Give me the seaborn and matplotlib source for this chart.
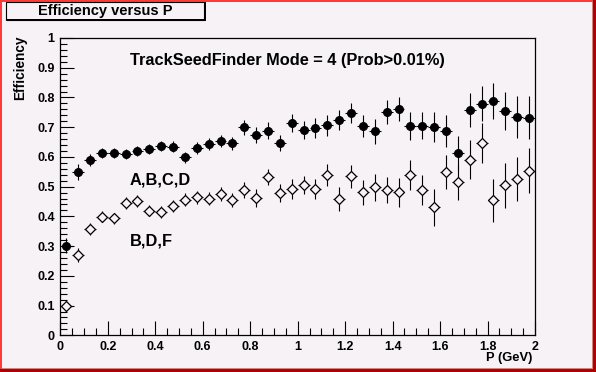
import numpy as np
import pandas as pd
import matplotlib
matplotlib.use("Agg")
import matplotlib.pyplot as plt
from matplotlib.patches import Rectangle
from matplotlib.ticker import MultipleLocator, FuncFormatter
import seaborn as sns

# bin centres (GeV), 40 bins of 0.05
p_bins = np.arange(0.025, 2.0, 0.05)

eff_abcd = [0.301, 0.550, 0.591, 0.613, 0.613, 0.609, 0.620, 0.627, 0.637, 0.634,
            0.599, 0.630, 0.643, 0.654, 0.646, 0.700, 0.674, 0.688, 0.647, 0.715,
            0.690, 0.697, 0.707, 0.724, 0.748, 0.704, 0.687, 0.751, 0.762, 0.704,
            0.705, 0.701, 0.688, 0.613, 0.758, 0.779, 0.789, 0.755, 0.735, 0.732]
err_abcd = [0.025, 0.026, 0.020, 0.016, 0.016, 0.016, 0.016, 0.017, 0.018, 0.018,
            0.019, 0.020, 0.021, 0.021, 0.022, 0.025, 0.028, 0.028, 0.028, 0.030,
            0.031, 0.034, 0.035, 0.035, 0.034, 0.038, 0.042, 0.041, 0.041, 0.048,
            0.045, 0.050, 0.054, 0.056, 0.058, 0.059, 0.060, 0.065, 0.070, 0.072]

eff_bdf = [0.099, 0.270, 0.358, 0.399, 0.394, 0.445, 0.452, 0.419, 0.414, 0.434,
           0.456, 0.465, 0.459, 0.475, 0.456, 0.489, 0.462, 0.532, 0.478, 0.492,
           0.505, 0.492, 0.539, 0.458, 0.535, 0.481, 0.498, 0.489, 0.481, 0.540,
           0.489, 0.430, 0.549, 0.515, 0.591, 0.646, 0.454, 0.504, 0.526, 0.554]
err_bdf = [0.020, 0.024, 0.021, 0.019, 0.019, 0.019, 0.019, 0.019, 0.020, 0.020,
           0.021, 0.022, 0.022, 0.023, 0.024, 0.028, 0.030, 0.028, 0.030, 0.033,
           0.031, 0.034, 0.038, 0.040, 0.038, 0.042, 0.046, 0.045, 0.048, 0.050,
           0.050, 0.062, 0.056, 0.059, 0.065, 0.067, 0.073, 0.075, 0.073, 0.077]

half_bin = 0.025
bg = '#f6f2f6'

sns.set_style("ticks")
plt.rcParams['font.family'] = ['Liberation Sans', 'DejaVu Sans']
plt.rcParams['font.weight'] = 'bold'
plt.rcParams['text.color'] = 'black'
plt.rcParams['axes.labelcolor'] = 'black'

W, H = 596, 372
fig = plt.figure(figsize=(W / 100, H / 100), dpi=100, facecolor=bg)
ax = fig.add_axes([60.3 / W, 1 - 335.3 / H, (535 - 60.3) / W, (335.3 - 38) / H])
ax.set_facecolor(bg)

df = pd.DataFrame({
    'P': np.concatenate([p_bins, p_bins]),
    'eff': eff_abcd + eff_bdf,
    'set': ['A,B,C,D'] * len(p_bins) + ['B,D,F'] * len(p_bins),
})

# error bars (behind the markers)
ax.errorbar(p_bins, eff_abcd, yerr=err_abcd, xerr=half_bin, fmt='none',
            ecolor='black', elinewidth=0.8, capsize=0, zorder=2)
ax.errorbar(p_bins, eff_bdf, yerr=err_bdf, xerr=half_bin, fmt='none',
            ecolor='black', elinewidth=0.8, capsize=0, zorder=2)

sns.scatterplot(data=df[df['set'] == 'A,B,C,D'], x='P', y='eff', ax=ax,
                marker='o', s=34, color='black', edgecolor='black',
                linewidth=0.6, zorder=3, legend=False)
sns.scatterplot(data=df[df['set'] == 'B,D,F'], x='P', y='eff', ax=ax,
                marker='D', s=26, facecolor=bg, edgecolor='black',
                linewidth=0.9, zorder=3, legend=False)

ax.set_xlim(0, 2)
ax.set_ylim(0, 1)
ax.set_xlabel('')
ax.set_ylabel('')
ax.xaxis.set_major_locator(MultipleLocator(0.2))
ax.xaxis.set_minor_locator(MultipleLocator(0.05))
ax.yaxis.set_major_locator(MultipleLocator(0.1))
ax.yaxis.set_minor_locator(MultipleLocator(0.02))
fmt = FuncFormatter(lambda v, pos: f'{round(v, 2):g}')
ax.xaxis.set_major_formatter(fmt)
ax.yaxis.set_major_formatter(fmt)
ax.tick_params(which='both', direction='in', top=False, right=False,
               width=0.8, color='black', labelsize=9, labelcolor='black')
ax.tick_params(which='major', length=10)
ax.tick_params(which='minor', length=5)
ax.tick_params(axis='x', pad=4)
ax.tick_params(axis='y', pad=4)
for sp in ax.spines.values():
    sp.set_visible(True)
    sp.set_color('black')
    sp.set_linewidth(0.9)

ax.text(0.294, 0.908, 'TrackSeedFinder Mode = 4 (Prob>0.01%)', fontsize=11.8,
        fontweight='bold', ha='left', va='baseline', color='black')
ax.text(0.294, 0.506, 'A,B,C,D', fontsize=11.8, fontweight='bold',
        ha='left', va='baseline', color='black')
ax.text(0.294, 0.301, 'B,D,F', fontsize=11.8, fontweight='bold',
        ha='left', va='baseline', color='black')

# canvas decoration in pixel coordinates
frame = fig.add_axes([0, 0, 1, 1], zorder=5)
frame.set_xlim(0, W)
frame.set_ylim(H, 0)
frame.axis('off')
frame.patch.set_alpha(0)

frame.add_patch(Rectangle((0, 0), 2, H, color='#ff3a3a', lw=0))
frame.add_patch(Rectangle((0, 0), W, 2, color='#ff3a3a', lw=0))
frame.add_patch(Rectangle((592, 2), 1, 367, color='#9c9c9c', lw=0))
frame.add_patch(Rectangle((2, 368), 591, 1, color='#9c9c9c', lw=0))
frame.add_patch(Rectangle((593, 0), 3, H, color='#b00000', lw=0))
frame.add_patch(Rectangle((0, 369), W, 3, color='#b00000', lw=0))

# title box with shadow
frame.add_patch(Rectangle((6, 1.5), 198, 18, facecolor=bg, edgecolor='black', lw=0.8))
frame.add_patch(Rectangle((204, 2), 1.8, 19, color='black', lw=0))
frame.add_patch(Rectangle((7, 19.2), 198.8, 1.8, color='black', lw=0))
frame.text(105, 15, 'Efficiency versus P', fontsize=10.5, fontweight='bold',
           ha='center', va='baseline', color='black')

frame.text(20, 35, 'Efficiency', fontsize=9.8, fontweight='bold', rotation=90,
           ha='center', va='top', color='black')
frame.text(532, 361.5, 'P (GeV)', fontsize=9.3, fontweight='bold',
           ha='right', va='baseline', color='black')

fig.savefig('out.png', dpi=100, facecolor=bg)
